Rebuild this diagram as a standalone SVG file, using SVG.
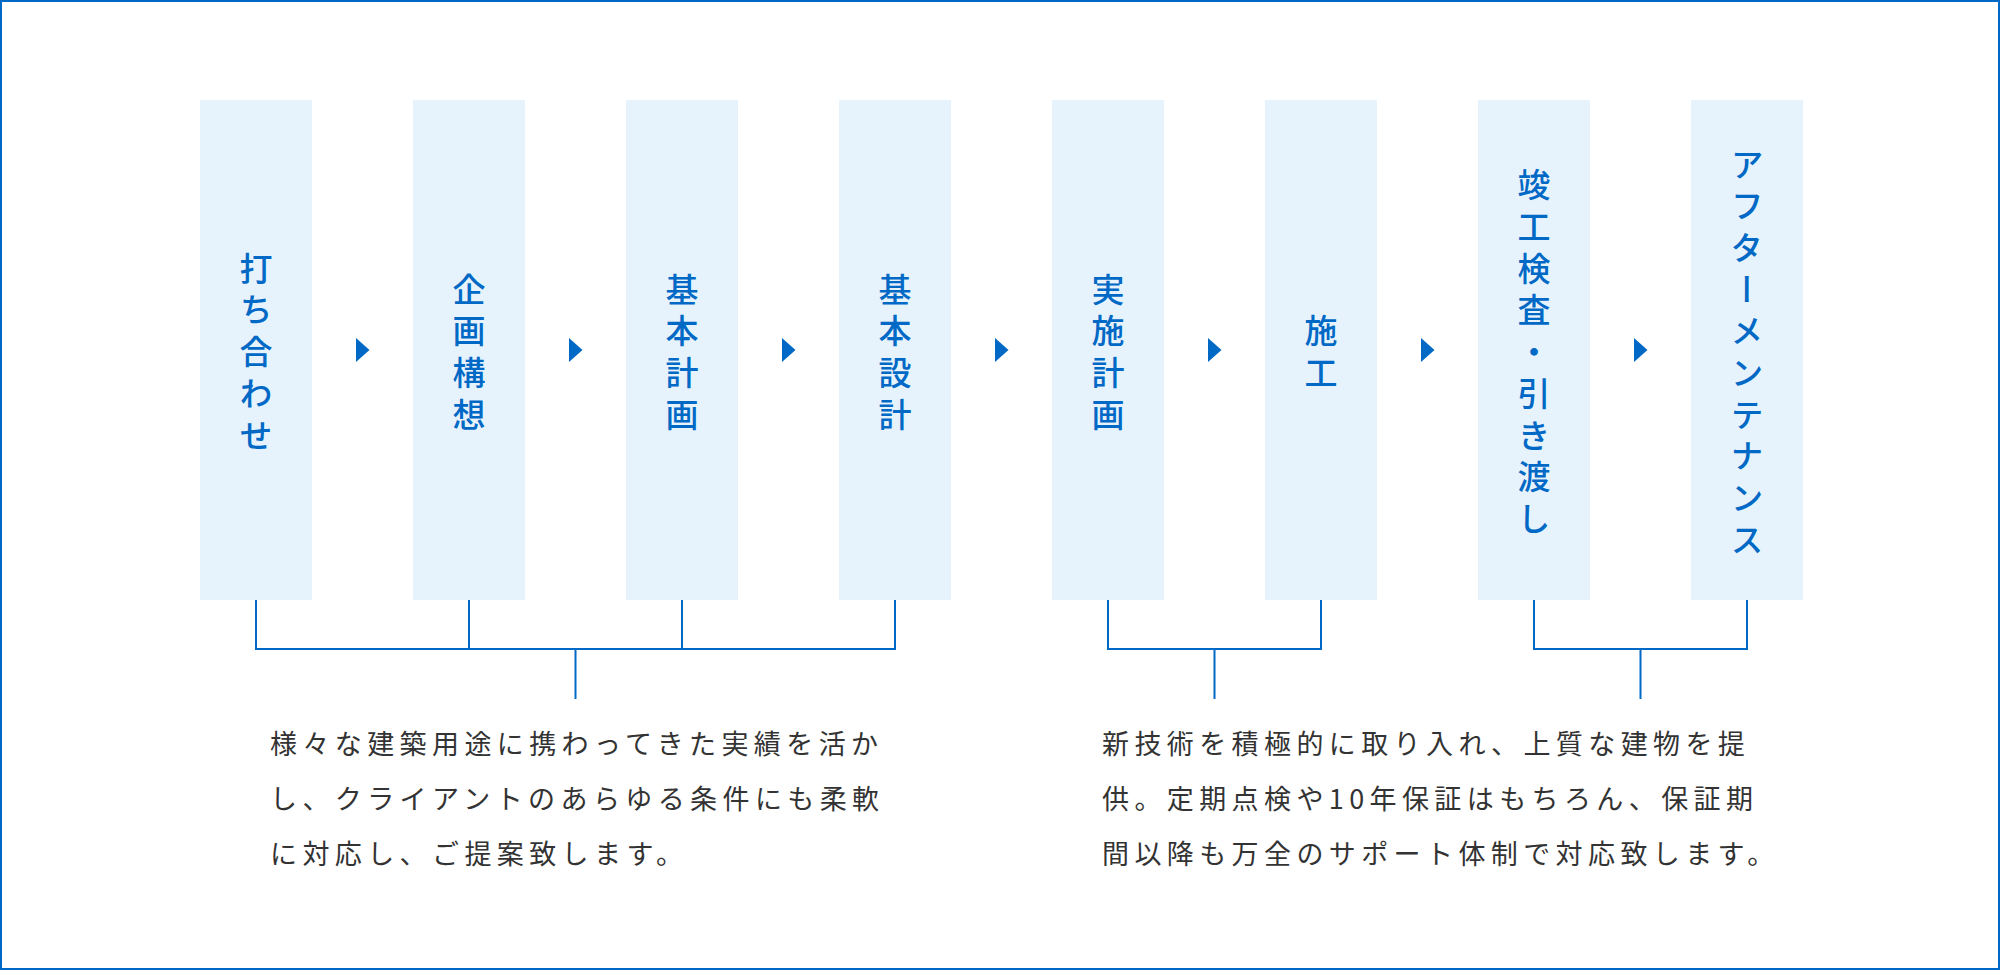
<svg xmlns="http://www.w3.org/2000/svg" width="2000" height="970" viewBox="0 0 2000 970">
<style>
.frame{fill:#ffffff;stroke:#0068C5;stroke-width:2}
.box{fill:#E6F3FD}
.label{font-family:"Noto Sans CJK JP","Noto Sans",sans-serif;font-size:33px;font-weight:500;fill:#0068C5;letter-spacing:8.7px;writing-mode:vertical-rl;text-anchor:middle}
.arrow{fill:#0068C5}
.conn{fill:none;stroke:#0068C5;stroke-width:2}
.desc{font-family:"Noto Sans CJK JP","Noto Sans",sans-serif;font-size:27px;fill:#333333;letter-spacing:5.4px}
</style>
<rect class="frame" x="1" y="1" width="1998" height="968"/>
<g id="step1"><rect class="box" x="200" y="100" width="112" height="500"/><text class="label" x="256" y="356">打ち合わせ</text></g>
<g id="step2"><rect class="box" x="413" y="100" width="112" height="500"/><text class="label" x="469" y="356">企画構想</text></g>
<g id="step3"><rect class="box" x="626" y="100" width="112" height="500"/><text class="label" x="682" y="356">基本計画</text></g>
<g id="step4"><rect class="box" x="839" y="100" width="112" height="500"/><text class="label" x="895" y="356">基本設計</text></g>
<g id="step5"><rect class="box" x="1052" y="100" width="112" height="500"/><text class="label" x="1108" y="356">実施計画</text></g>
<g id="step6"><rect class="box" x="1265" y="100" width="112" height="500"/><text class="label" x="1321" y="356">施工</text></g>
<g id="step7"><rect class="box" x="1478" y="100" width="112" height="500"/><text class="label" x="1534" y="356">竣工検査・引き渡し</text></g>
<g id="step8"><rect class="box" x="1691" y="100" width="112" height="500"/><text class="label" x="1747" y="356">アフターメンテナンス</text></g>
<g id="connectors">
<polygon class="arrow" points="356,338 356,362 369.5,350"/>
<polygon class="arrow" points="569,338 569,362 582.5,350"/>
<polygon class="arrow" points="782,338 782,362 795.5,350"/>
<polygon class="arrow" points="995,338 995,362 1008.5,350"/>
<polygon class="arrow" points="1208,338 1208,362 1221.5,350"/>
<polygon class="arrow" points="1421,338 1421,362 1434.5,350"/>
<polygon class="arrow" points="1634,338 1634,362 1647.5,350"/>
<path class="conn" d="M256,600V649H895V600M469,600V649M682,600V649M575.5,649V699"/>
<path class="conn" d="M1108,600V649H1321V600M1214.5,649V699"/>
<path class="conn" d="M1534,600V649H1747V600M1640.5,649V699"/>
</g>
<g id="desc1">
<text class="desc" x="270" y="754">様々な建築用途に携わってきた実績を活か</text>
<text class="desc" x="270" y="809">し、クライアントのあらゆる条件にも柔軟</text>
<text class="desc" x="270" y="864">に対応し、ご提案致します。</text>
</g>
<g id="desc2">
<text class="desc" x="1102" y="754">新技術を積極的に取り入れ、上質な建物を提</text>
<text class="desc" x="1102" y="809">供。定期点検や10年保証はもちろん、保証期</text>
<text class="desc" x="1102" y="864">間以降も万全のサポート体制で対応致します。</text>
</g>
</svg>
